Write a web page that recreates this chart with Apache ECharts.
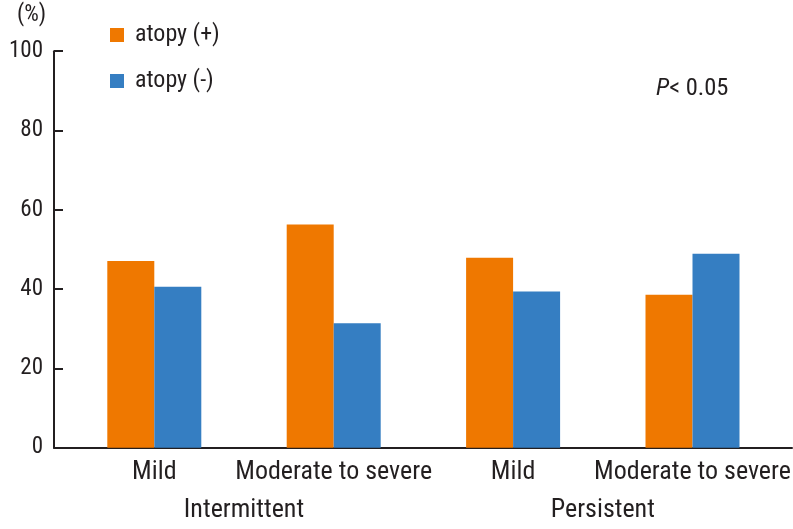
<!DOCTYPE html>
<html>
<head>
<meta charset="utf-8">
<script src="https://cdn.jsdelivr.net/npm/echarts@6/dist/echarts.min.js"></script>
<style>
html,body{margin:0;padding:0;background:#fff;}
#c{width:793px;height:529px;}
</style>
</head>
<body>
<div id="c"></div>
<script>
const categories = ['Mild', 'Moderate to severe', 'Mild', 'Moderate to severe'];
const groups = ['Intermittent', 'Persistent'];
const atopyPos = [47.1, 56.3, 47.9, 38.6];
const atopyNeg = [40.6, 31.4, 39.4, 48.9];
const yTicks = [0, 20, 40, 60, 80, 100];
const seriesNames = ['atopy (+)', 'atopy (-)'];

// pick the narrowest available sans family
const ctx = document.createElement('canvas').getContext('2d');
function available(f) {
  ctx.font = "40px monospace"; const a = ctx.measureText('Moderate to severe 100').width;
  ctx.font = "40px '" + f + "', monospace"; const b = ctx.measureText('Moderate to severe 100').width;
  return a !== b;
}
const candidates = ['Liberation Sans Narrow', 'Roboto Condensed', 'DejaVu Sans Condensed', 'Roboto'];
let fam = 'sans-serif';
for (const c of candidates) { if (available(c)) { fam = "'" + c + "'"; break; } }
const FONT = fam + ', sans-serif';
function sizeFor(text, width) {
  ctx.font = "100px " + FONT;
  return Math.round(100 * width / ctx.measureText(text).width * 2) / 2;
}
const xLabelSize = Math.min(26, sizeFor('Moderate to severe', 196));
const yLabelSize = Math.round(xLabelSize * 0.88);
const legendSize = Math.min(24, sizeFor('atopy (+)', 85));
const pSize = Math.min(26, sizeFor('P< 0.05', 73));

const INK = '#231f20';
const ORANGE = '#ef7800';
const BLUE = '#357ec2';

const chart = echarts.init(document.getElementById('c'), null, {renderer: 'canvas'});
chart.setOption({
  animation: false,
  backgroundColor: '#fff',
  textStyle: {fontFamily: FONT, color: INK},
  legend: {
    orient: 'vertical',
    left: 110,
    top: 23,
    padding: 0,
    itemWidth: 14,
    itemHeight: 14,
    itemGap: 22,
    icon: 'rect',
    data: seriesNames,
    textStyle: {fontFamily: FONT, fontSize: legendSize, color: INK, padding: [0, 0, 0, 6]}
  },
  title: {
    left: 656,
    top: 76,
    padding: 0,
    text: '{i|P}{n|< 0.05}',
    textStyle: {
      fontWeight: 'normal',
      rich: {
        i: {fontFamily: FONT, fontSize: pSize, fontStyle: 'italic', fontWeight: 'normal', color: INK},
        n: {fontFamily: FONT, fontSize: pSize, fontWeight: 'normal', color: INK}
      }
    }
  },
  graphic: [{
    type: 'text', left: 17, top: 4,
    style: {text: '(%)', fontFamily: FONT, fontSize: yLabelSize, fill: INK}
  }],
  grid: [
    {left: 64.6, right: 10.8, top: 51.2, bottom: 81.3, outerBoundsMode: 'none', containLabel: false},
    {left: 54, right: 1, top: 51.2, bottom: 81.3, outerBoundsMode: 'none', containLabel: false}
  ],
  xAxis: [
    {
      type: 'category', gridIndex: 0, data: categories,
      axisLine: {show: false}, axisTick: {show: false},
      axisLabel: {fontFamily: FONT, fontSize: xLabelSize, color: INK, margin: 12, interval: 0, hideOverlap: false}
    },
    {
      type: 'category', gridIndex: 0, data: groups, position: 'bottom', offset: 38,
      axisLine: {show: false}, axisTick: {show: false},
      axisLabel: {fontFamily: FONT, fontSize: xLabelSize, color: INK, margin: 12, interval: 0}
    },
    {
      type: 'value', gridIndex: 1, min: 0, max: 1,
      axisLine: {show: true, lineStyle: {color: INK, width: 2}},
      axisTick: {show: false}, axisLabel: {show: false}, splitLine: {show: false}
    }
  ],
  yAxis: [
    {
      type: 'value', gridIndex: 0, min: yTicks[0], max: yTicks[yTicks.length - 1], interval: 20,
      offset: 10.6,
      axisLine: {show: true, lineStyle: {color: INK, width: 2}},
      axisTick: {show: true, inside: true, length: 9, lineStyle: {color: INK, width: 2}},
      splitLine: {show: false},
      axisLabel: {fontFamily: FONT, fontSize: yLabelSize, color: INK, margin: 11}
    },
    {type: 'value', gridIndex: 1, show: false, min: 0, max: 1}
  ],
  series: [
    {name: seriesNames[0], type: 'bar', xAxisIndex: 0, yAxisIndex: 0, data: atopyPos,
     barWidth: 47, barGap: '0%', itemStyle: {color: ORANGE}},
    {name: seriesNames[1], type: 'bar', xAxisIndex: 0, yAxisIndex: 0, data: atopyNeg,
     barWidth: 47, barGap: '0%', itemStyle: {color: BLUE}}
  ]
});
</script>
</body>
</html>
